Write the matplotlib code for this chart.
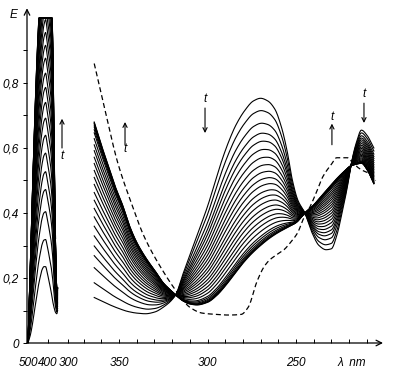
import numpy as np
import matplotlib
matplotlib.use("Agg")
from matplotlib import pyplot as plt

# left part of the scale (compressed, 500-300 nm)
left_wl = [500, 490, 480, 470, 460, 450, 440, 430, 420, 412, 405, 395, 385, 377, 370, 363, 356, 352]
left_first = [0.0, 0.02, 0.05, 0.09, 0.13, 0.17, 0.20, 0.225, 0.235, 0.235, 0.22, 0.19, 0.16, 0.13, 0.11, 0.095, 0.09, 0.10]
left_last = [0.0, 0.2, 0.42, 0.62, 0.8, 0.95, 1.06, 1.15, 1.21, 1.23, 1.2, 1.15, 1.08, 0.95, 0.62, 0.32, 0.17, 0.17]
left_dash_wl = [500, 480, 460, 440, 420, 405, 390, 382, 377, 372, 367, 362]
left_dash = [0.0, 0.35, 0.75, 1.05, 1.25, 1.3, 1.2, 1.08, 0.9, 0.6, 0.42, 0.32]

# right part (364-206 nm)
first_wl = [364, 360, 355, 350, 345, 340, 335, 330, 325, 318, 314, 310, 306, 300, 296, 292, 288, 284,
            279, 274, 270, 266, 262, 258, 255, 252, 249, 245, 241, 237, 233, 230, 227, 224, 221, 219,
            216, 213, 210, 206]
first_E = [0.14, 0.13, 0.117, 0.106, 0.097, 0.092, 0.09, 0.095, 0.11, 0.148, 0.21, 0.27, 0.33, 0.42,
           0.49, 0.56, 0.62, 0.67, 0.715, 0.745, 0.753, 0.745, 0.72, 0.66, 0.59, 0.50, 0.44, 0.40,
           0.34, 0.30, 0.287, 0.29, 0.33, 0.40, 0.48, 0.545, 0.615, 0.655, 0.64, 0.60]
last_wl = [364, 360, 356, 352, 348, 344, 340, 334, 330, 325, 321, 318, 314, 310, 306, 300, 295, 290,
           285, 280, 275, 270, 265, 260, 255, 250, 245, 240, 236, 232, 228, 224, 219, 216, 213, 210, 206]
last_E = [0.68, 0.61, 0.545, 0.48, 0.425, 0.36, 0.31, 0.255, 0.225, 0.185, 0.163, 0.148, 0.13, 0.12,
          0.117, 0.125, 0.145, 0.175, 0.21, 0.245, 0.275, 0.30, 0.322, 0.34, 0.355, 0.37, 0.40, 0.425,
          0.45, 0.475, 0.50, 0.522, 0.545, 0.55, 0.553, 0.535, 0.49]
dash_wl = [364, 358, 351, 343, 336, 325, 317, 310, 303, 295, 288, 281, 277, 272, 268, 265, 260, 257,
           253, 249, 246, 242, 238, 235, 230, 227, 221, 218, 215, 212, 208, 205]
dash_E = [0.86, 0.72, 0.56, 0.43, 0.33, 0.22, 0.155, 0.11, 0.092, 0.088, 0.086, 0.088, 0.11, 0.19,
          0.235, 0.255, 0.275, 0.286, 0.31, 0.34, 0.38, 0.42, 0.47, 0.51, 0.55, 0.57, 0.57, 0.555,
          0.54, 0.53, 0.52, 0.50]

# peak heights near 270 nm, one per recorded spectrum
peak_270 = [0.753, 0.715, 0.676, 0.645, 0.620, 0.594, 0.569, 0.545, 0.523, 0.502, 0.482, 0.461, 0.443,
            0.425, 0.407, 0.391, 0.374, 0.359, 0.343, 0.328, 0.320, 0.313, 0.308, 0.304, 0.302, 0.300]

y_ticks = [0, 0.1, 0.2, 0.3, 0.4, 0.5, 0.6, 0.7, 0.8, 0.9]
y_labels = ["0", "", "0,2", "", "0,4", "", "0,6", "", "0,8", ""]
left_ticks = [500, 400, 300]
right_ticks = list(range(370, 205, -10))
right_labels = {350: "350", 300: "300", 250: "250"}


def u_left(wl):
    return 28 + (500 - np.asarray(wl, float)) * 0.2


def u_right(wl):
    return 119 + (350 - np.asarray(wl, float)) * 1.77


def pchip(x, y, xs):
    x = np.asarray(x, float)
    y = np.asarray(y, float)
    h = np.diff(x)
    dl = np.diff(y) / h
    m = np.zeros_like(y)
    m[0], m[-1] = dl[0], dl[-1]
    for i in range(1, len(x) - 1):
        if dl[i - 1] * dl[i] > 0:
            w1 = 2 * h[i] + h[i - 1]
            w2 = h[i] + 2 * h[i - 1]
            m[i] = (w1 + w2) / (w1 / dl[i - 1] + w2 / dl[i])
    k = np.clip(np.searchsorted(x, xs) - 1, 0, len(x) - 2)
    t = (xs - x[k]) / h[k]
    h00 = 2 * t**3 - 3 * t**2 + 1
    h10 = t**3 - 2 * t**2 + t
    h01 = -2 * t**3 + 3 * t**2
    h11 = t**3 - t**2
    return h00 * y[k] + h10 * h[k] * m[k] + h01 * y[k + 1] + h11 * h[k] * m[k + 1]


frac = (peak_270[0] - np.array(peak_270)) / (peak_270[0] - peak_270[-1])

fig = plt.figure(figsize=(4, 3.72), dpi=100)
ax = fig.add_axes([27 / 400, 29 / 372, (385 - 27) / 400, 335 / 372])
ax.set_xlim(27, 385)
ax.set_ylim(0, 335 / 325)

lw = 0.8
dash = (0, (4, 2.5))
ul = np.linspace(u_left(500), u_left(352), 300)
a0 = pchip(u_left(left_wl), left_first, ul)
a1 = pchip(u_left(left_wl), left_last, ul)
for f in frac:
    ax.plot(ul, np.minimum(a0 + f * (a1 - a0), 1.0), color="black", lw=lw)
ud = np.linspace(u_left(500), u_left(362), 200)
ed = pchip(u_left(left_dash_wl), left_dash, ud)
ax.plot(ud, np.where(ed > 1.0, np.nan, ed), color="black", lw=0.8, ls=dash)

ur = np.linspace(u_right(364), u_right(206), 600)
b0 = pchip(u_right(first_wl), first_E, ur)
b1 = pchip(u_right(last_wl), last_E, ur)
for f in frac:
    ax.plot(ur, b0 + f * (b1 - b0), color="black", lw=lw)
ud = np.linspace(u_right(364), u_right(205), 400)
ax.plot(ud, pchip(u_right(dash_wl), dash_E, ud), color="black", lw=0.9, ls=dash)

# axes with arrows
for s in ax.spines.values():
    s.set_visible(False)
ax.annotate("", xy=(27, 1.03), xytext=(27, 0), annotation_clip=False,
            arrowprops=dict(arrowstyle="->", lw=0.9, color="black", shrinkA=0, shrinkB=0))
ax.annotate("", xy=(383, 0), xytext=(27, 0), annotation_clip=False,
            arrowprops=dict(arrowstyle="->", lw=0.9, color="black", shrinkA=0, shrinkB=0))

font = dict(style="italic", family="Liberation Sans", size=8.5)
ax.set_yticks(y_ticks)
ax.set_yticklabels(y_labels, **font)
ax.tick_params(axis="y", direction="out", length=3, width=0.7, pad=3)

xt = list(u_left(left_ticks)) + list(u_right(right_ticks))
ax.set_xticks(xt)
ax.set_xticklabels([str(w) for w in left_ticks] + [right_labels.get(w, "") for w in right_ticks], **font)
ax.tick_params(axis="x", direction="in", length=3, width=0.7, pad=10)

ax.text(14, 1.01, "E", ha="center", va="center", clip_on=False, **font)
ax.text(u_right(226.5), -0.062, "λ  nm", ha="left", va="center", clip_on=False, **font)

# time arrows: (u position, tail, head, label height)
arrows = [(u_left(330), 0.60, 0.69, 0.575),
          (u_right(346.6), 0.61, 0.68, 0.597),
          (u_right(301.4), 0.723, 0.646, 0.75),
          (u_right(229.7), 0.61, 0.675, 0.695),
          (u_right(211.6), 0.738, 0.677, 0.765)]
for u, tail, head, ty in arrows:
    ax.annotate("", xy=(u, head), xytext=(u, tail),
                arrowprops=dict(arrowstyle="->,head_length=0.3,head_width=0.15", lw=0.8,
                                color="black", shrinkA=0, shrinkB=0))
    ax.text(u, ty, "t", ha="center", va="center", **font)

fig.savefig("out.png", dpi=100, facecolor="white")
